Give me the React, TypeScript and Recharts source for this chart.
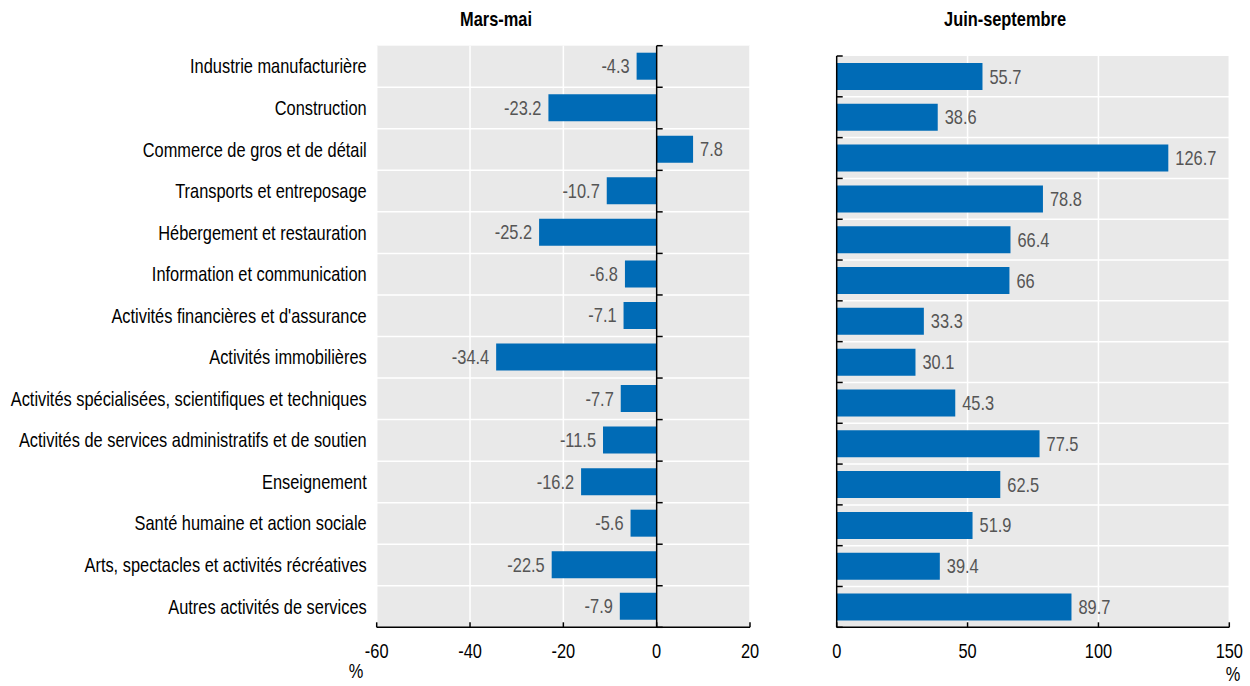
import { BarChart, Bar, XAxis, YAxis, CartesianGrid, ReferenceLine, LabelList } from 'recharts';

const sectors = [
  'Industrie manufacturière',
  'Construction',
  'Commerce de gros et de détail',
  'Transports et entreposage',
  'Hébergement et restauration',
  'Information et communication',
  "Activités financières et d'assurance",
  'Activités immobilières',
  'Activités spécialisées, scientifiques et techniques',
  'Activités de services administratifs et de soutien',
  'Enseignement',
  'Santé humaine et action sociale',
  'Arts, spectacles et activités récréatives',
  'Autres activités de services',
];
const marsMai = [-4.3, -23.2, 7.8, -10.7, -25.2, -6.8, -7.1, -34.4, -7.7, -11.5, -16.2, -5.6, -22.5, -7.9];
const juinSept = [55.7, 38.6, 126.7, 78.8, 66.4, 66, 33.3, 30.1, 45.3, 77.5, 62.5, 51.9, 39.4, 89.7];
const marsTicks = [-60, -40, -20, 0, 20];
const juinTicks = [0, 50, 100, 150];

// no Arial Narrow offline -> squeeze Liberation Sans horizontally
const FONT = "'Liberation Sans', Arial, sans-serif";
const SQUEEZE = 0.82;
const BLUE = '#006BB6';
const GRID_BG = '#e9e9e9';

function NarrowText({ x, y, anchor, fill = '#000', bold = false, dy, children }: any) {
  return (
    <text
      transform={`translate(${x},${y}) scale(${SQUEEZE},1)`}
      textAnchor={anchor}
      dy={dy}
      fill={fill}
      fontSize={20}
      fontWeight={bold ? 'bold' : 'normal'}
      fontFamily={FONT}
    >
      {children}
    </text>
  );
}

function ValueLabel(props: any) {
  const { x, y, width, height, value } = props;
  const left = Math.min(x, x + width);
  const right = Math.max(x, x + width);
  const neg = value < 0;
  return (
    <NarrowText x={neg ? left - 7 : right + 7} y={y + height / 2} anchor={neg ? 'end' : 'start'} dy="0.35em" fill="#555">
      {value}
    </NarrowText>
  );
}

function CatTick(props: any) {
  return (
    <NarrowText x={props.x} y={props.y} anchor="end" dy="0.35em">
      {props.payload.value}
    </NarrowText>
  );
}

function NumTick(props: any) {
  return (
    <NarrowText x={props.x} y={props.y} anchor="middle" dy="0.71em">
      {props.payload.value}
    </NarrowText>
  );
}

interface PanelProps {
  values: number[];
  ticks: number[];
  width: number;
  margin: { top: number; right: number; left: number; bottom: number };
  showNames: boolean;
  labelWidth: number;
}

function Panel({ values, ticks, width, margin, showNames, labelWidth }: PanelProps) {
  const data = sectors.map((name, i) => ({ name, v: values[i] }));
  const lo = ticks[0];
  const hi = ticks[ticks.length - 1];
  const plotWidth = width - margin.left - margin.right - labelWidth;
  const tickUnits = (6 * (hi - lo)) / plotWidth;
  const last = sectors[sectors.length - 1];

  return (
    <BarChart layout="vertical" width={width} height={686} data={data} margin={margin}>
      <CartesianGrid horizontal={false} fill={GRID_BG} stroke="#fff" strokeWidth={1.5} />
      <XAxis
        type="number"
        domain={[lo, hi]}
        ticks={ticks}
        interval={0}
        height={58.7}
        tickSize={-5}
        tickMargin={21}
        axisLine={{ stroke: '#000', strokeWidth: 1.5 }}
        tickLine={{ stroke: '#000', strokeWidth: 1.5 }}
        tick={NumTick}
      />
      <YAxis
        type="category"
        dataKey="name"
        width={labelWidth}
        hide={!showNames}
        interval={0}
        tickLine={false}
        axisLine={false}
        tickSize={0}
        tickMargin={10}
        tick={CatTick}
      />
      {sectors.slice(1).map((s) => (
        <ReferenceLine key={'h' + s} y={s} position="start" stroke="#fff" strokeWidth={1.5} />
      ))}
      <Bar dataKey="v" fill={BLUE} barSize={27} isAnimationActive={false}>
        <LabelList dataKey="v" content={ValueLabel} />
      </Bar>
      <ReferenceLine x={0} stroke="#000" strokeWidth={1.5} />
      {sectors.map((s) => (
        <ReferenceLine
          key={'t' + s}
          position="start"
          segment={[{ x: 0, y: s }, { x: tickUnits, y: s }]}
          stroke="#000"
          strokeWidth={1.5}
        />
      ))}
      <ReferenceLine
        position="end"
        segment={[{ x: 0, y: last }, { x: tickUnits, y: last }]}
        stroke="#000"
        strokeWidth={1.5}
      />
    </BarChart>
  );
}

export default function App() {
  return (
    <div style={{ position: 'absolute', left: 0, top: 0, width: 1250, height: 686, background: '#fff' }}>
      <div style={{ position: 'absolute', left: 0, top: 0 }}>
        <Panel
          values={marsMai}
          ticks={marsTicks}
          width={780}
          margin={{ top: 45.7, right: 30, left: 0, bottom: 0 }}
          showNames={true}
          labelWidth={376.7}
        />
      </div>
      <div style={{ position: 'absolute', left: 780, top: 0 }}>
        <Panel
          values={juinSept}
          ticks={juinTicks}
          width={470}
          margin={{ top: 56, right: 20.7, left: 56.7, bottom: 0 }}
          showNames={false}
          labelWidth={0}
        />
      </div>
      <svg width={1250} height={686} style={{ position: 'absolute', left: 0, top: 0, pointerEvents: 'none' }}>
        <NarrowText x={496} y={26} anchor="middle" bold>
          Mars-mai
        </NarrowText>
        <NarrowText x={1005} y={26} anchor="middle" bold>
          Juin-septembre
        </NarrowText>
        <NarrowText x={356} y={678} anchor="middle">
          %
        </NarrowText>
        <NarrowText x={1233} y={681} anchor="middle">
          %
        </NarrowText>
      </svg>
    </div>
  );
}
